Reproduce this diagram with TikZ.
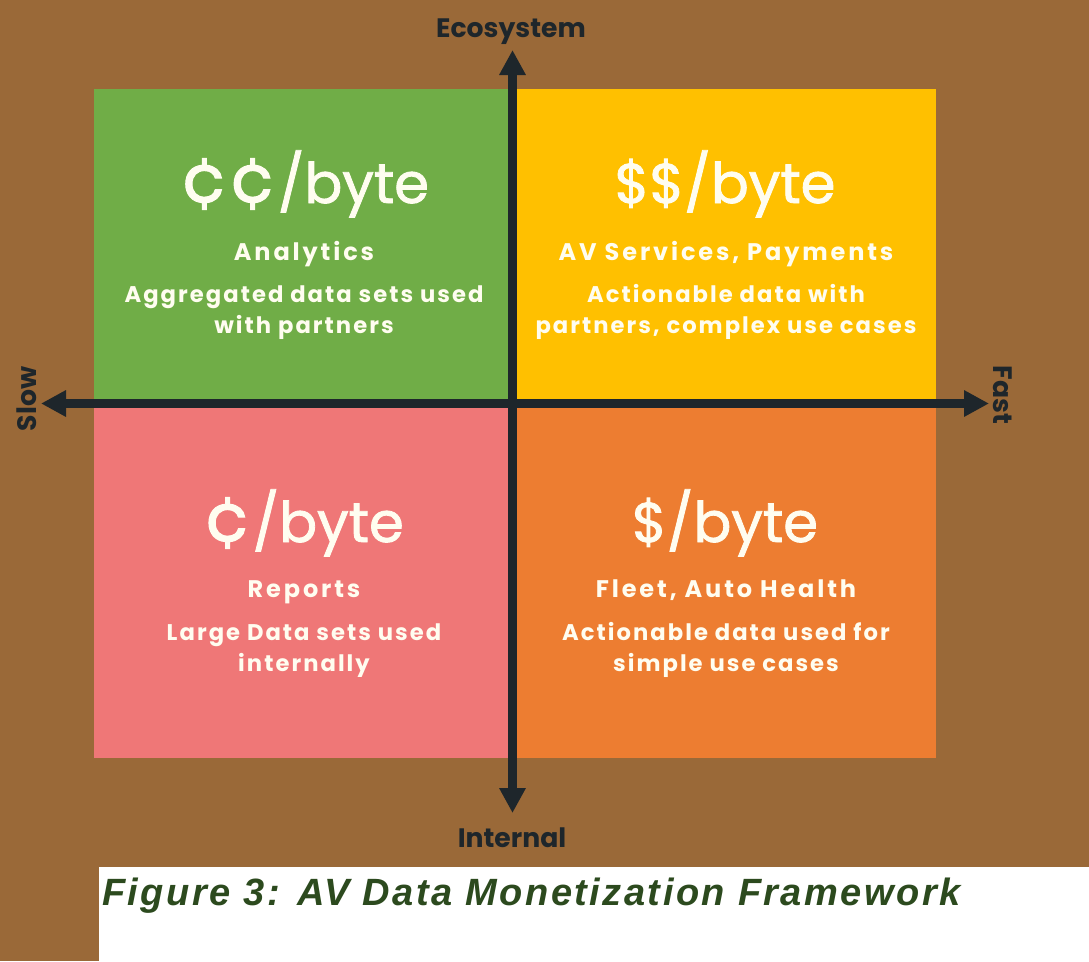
\documentclass[tikz,border=0pt]{standalone}
\usepackage{fontspec}
\setmainfont{Poppins}
\newfontfamily\capfont{Liberation Sans}
\usetikzlibrary{arrows.meta}
\definecolor{avbrown}{RGB}{154,105,56}
\definecolor{avgreen}{RGB}{112,173,71}
\definecolor{avyellow}{RGB}{255,192,0}
\definecolor{avpink}{RGB}{239,119,119}
\definecolor{avorange}{RGB}{237,125,49}
\definecolor{avaxis}{RGB}{30,38,43}
\definecolor{avtext}{RGB}{255,253,240}
\definecolor{avcaption}{RGB}{44,74,30}
\newcommand{\capcent}{\scalebox{1.3}{¢}}
\tikzset{
  qprice/.style={text=avtext,anchor=base,inner sep=0pt,font=\fontsize{42}{42}\selectfont\addfontfeature{FakeBold=1.5}},
  qname/.style={text=avtext,anchor=base,inner sep=0pt,font=\fontsize{18}{18}\selectfont\bfseries\addfontfeature{LetterSpace=12}},
  qdesc/.style={text=avtext,anchor=base,inner sep=0pt,align=center,font=\fontsize{17}{23.25}\selectfont\bfseries\addfontfeature{LetterSpace=9}},
  axislabel/.style={text=avaxis,inner sep=0pt,font=\fontsize{20}{20}\selectfont\bfseries},
  axis/.style={avaxis,line width=6.75pt,>={Triangle[width=18.75pt,length=18.75pt]},<->}
}
\begin{document}
\begin{tikzpicture}[x=0.75pt,y=-0.75pt]
\useasboundingbox (0,0) rectangle (1089,961);
% Background
\fill[avbrown] (0,0) rectangle (1089,961);
\fill[white] (99,867) rectangle (1089,961);
% Quadrants
\fill[avgreen] (94,89) rectangle (513,404);
\fill[avyellow] (513,89) rectangle (936,404);
\fill[avpink] (94,404) rectangle (513,758);
\fill[avorange] (513,404) rectangle (936,758);
% Axes
\coordinate (eco) at (512.5,50);
\coordinate (int) at (512.5,813);
\coordinate (slow) at (41,403.5);
\coordinate (fast) at (989,403.5);
\draw[axis] (int) -- (eco);
\draw[axis] (slow) -- (fast);
\node[axislabel,anchor=base] (ecolabel) at (511,37) {Ecosystem};
\node[axislabel,anchor=base] (intlabel) at (512,847) {Internal};
\node[axislabel,rotate=90] (slowlabel) at (27,399) {Slow};
\node[axislabel,rotate=-90] (fastlabel) at (1003,395) {Fast};
% Top left
\node[qprice] (pricegreen) at (305,203) {\capcent\capcent/byte};
\node[qname] (namegreen) at (304,260) {Analytics};
\node[qdesc] (descgreen) at (304,333) {Aggregated data sets used\\with partners};
% Top right
\node[qprice] (priceyellow) at (725,203) {\$\$/byte};
\node[qname] (nameyellow) at (726,260) {AV Services, Payments};
\node[qdesc] (descyellow) at (726,333) {Actionable data with\\partners, complex use cases};
% Bottom left
\node[qprice] (pricepink) at (304,542) {\capcent/byte};
\node[qname] (namepink) at (304,597) {Reports};
\node[qdesc] (descpink) at (304,671) {Large Data sets used\\internally};
% Bottom right
\node[qprice] (priceorange) at (725,542) {\$/byte};
\node[qname] (nameorange) at (726,597) {Fleet, Auto Health};
\node[qdesc] (descorange) at (726,671) {Actionable data used for\\simple use cases};
% Caption
\node[anchor=base west,inner sep=0pt,text=avcaption,font=\capfont\itshape\bfseries\fontsize{28.5}{28.5}\selectfont\addfontfeature{LetterSpace=6.5}] (caption) at (102,905) {Figure 3: AV Data Monetization Framework};
\end{tikzpicture}
\end{document}
